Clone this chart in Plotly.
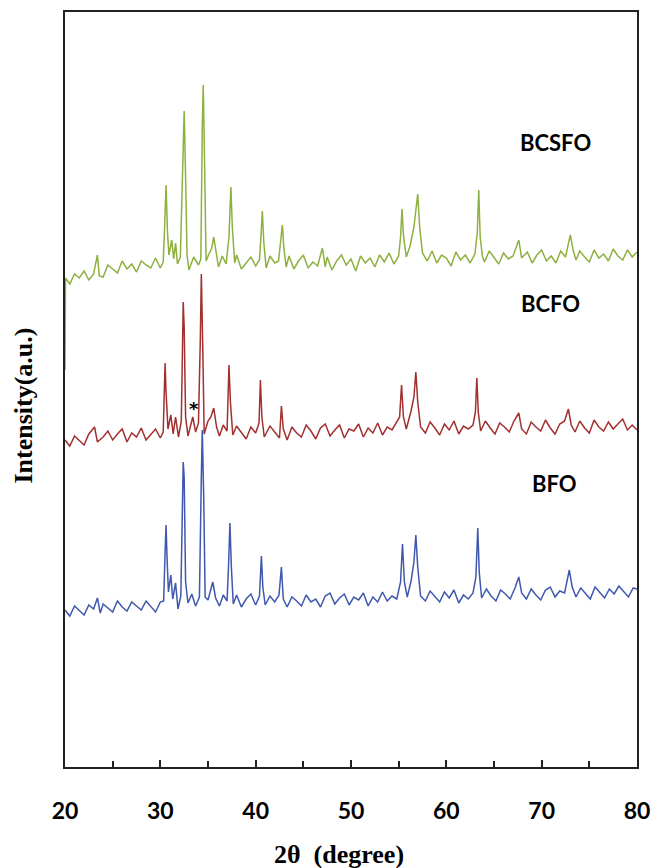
import plotly.graph_objects as go

# ---------------- data (2θ in degrees, intensity in a.u.) ----------------
bcsfo_2theta = [20.0, 20.05, 20.5, 21.0, 21.5, 22.0, 22.5, 23.0, 23.4, 23.6, 24.0, 24.5, 25.0, 25.5, 26.0, 26.5,
                27.0, 27.5, 28.0, 28.5, 29.0, 29.5, 30.0, 30.3, 30.45, 30.6, 30.75, 30.9, 31.2, 31.4, 31.6, 31.8,
                32.1, 32.3, 32.4, 32.5, 32.65, 32.8, 33.0, 33.5, 34.0, 34.25, 34.4, 34.5, 34.65, 34.8, 35.1, 35.4,
                35.6, 35.8, 36.1, 36.5, 36.9, 37.2, 37.4, 37.55, 37.8, 38.0, 38.5, 39.0, 39.5, 40.0, 40.4, 40.55,
                40.7, 40.85, 41.1, 41.5, 42.0, 42.4, 42.65, 42.8, 42.95, 43.2, 43.5, 44.0, 44.5, 45.0, 45.5, 46.0,
                46.5, 47.0, 47.3, 47.5, 48.0, 48.5, 49.0, 49.5, 50.0, 50.5, 51.0, 51.5, 52.0, 52.5, 53.0, 53.5,
                54.0, 54.5, 55.0, 55.2, 55.35, 55.5, 55.8, 56.2, 56.6, 57.0, 57.2, 57.5, 58.0, 58.5, 59.0, 59.5,
                60.0, 60.5, 61.0, 61.5, 62.0, 62.5, 63.0, 63.25, 63.4, 63.55, 63.8, 64.0, 64.5, 65.0, 65.5, 66.0,
                66.5, 67.0, 67.6, 67.9, 68.5, 69.0, 69.5, 70.0, 70.5, 71.0, 71.5, 72.0, 72.5, 73.0, 73.3, 73.6,
                74.0, 74.5, 75.0, 75.5, 76.0, 76.5, 77.0, 77.5, 78.0, 78.5, 79.0, 79.5, 80.0]
bcsfo_int = [397, 489, 483, 493, 489, 496, 487, 493, 512, 491, 490, 502, 498, 494, 506, 498,
             503, 495, 506, 502, 499, 509, 499, 505, 540, 582, 535, 512, 527, 508, 524, 503,
             510, 600, 639, 656, 590, 512, 497, 510, 502, 508, 640, 682, 600, 506, 513, 519,
             530, 516, 500, 511, 503, 530, 580, 540, 504, 512, 498, 504, 510, 501, 507, 530,
             556, 525, 499, 511, 504, 506, 525, 542, 520, 500, 511, 498, 506, 512, 499, 505,
             501, 519, 500, 510, 497, 506, 512, 502, 508, 496, 511, 504, 509, 500, 512, 505,
             514, 503, 511, 530, 558, 532, 510, 521, 540, 573, 540, 514, 506, 516, 504, 512,
             509, 501, 515, 507, 512, 504, 513, 535, 577, 530, 510, 505, 516, 509, 503, 514,
             508, 511, 527, 509, 515, 504, 512, 517, 506, 511, 504, 516, 510, 532, 517, 507,
             516, 510, 505, 517, 509, 513, 506, 518, 511, 507, 517, 510, 515]

bcfo_2theta = [20.0, 20.5, 21.0, 21.5, 22.0, 22.5, 23.1, 23.4, 24.0, 24.5, 25.0, 25.5, 26.0, 26.5, 27.0, 27.5,
               28.0, 28.5, 29.0, 29.5, 30.0, 30.3, 30.4, 30.5, 30.6, 30.8, 31.1, 31.35, 31.6, 31.9, 32.2, 32.3,
               32.4, 32.5, 32.65, 32.9, 33.2, 33.4, 33.7, 34.0, 34.2, 34.3, 34.45, 34.6, 35.0, 35.3, 35.6, 35.9,
               36.2, 36.6, 37.0, 37.1, 37.2, 37.35, 37.6, 38.0, 38.5, 39.0, 39.5, 40.0, 40.35, 40.5, 40.65, 40.9,
               41.5, 42.0, 42.5, 42.7, 42.9, 43.3, 43.8, 44.3, 44.8, 45.3, 45.8, 46.3, 46.8, 47.3, 47.8, 48.3,
               48.8, 49.3, 49.8, 50.3, 50.8, 51.3, 51.8, 52.3, 52.8, 53.3, 53.8, 54.3, 54.8, 55.1, 55.3, 55.5,
               55.8, 56.3, 56.6, 56.8, 57.0, 57.3, 57.8, 58.3, 58.8, 59.3, 59.8, 60.3, 60.8, 61.3, 61.8, 62.3,
               62.8, 63.05, 63.2, 63.35, 63.6, 64.1, 64.6, 65.1, 65.6, 66.1, 66.6, 67.1, 67.6, 67.9, 68.4, 68.9,
               69.4, 69.9, 70.4, 70.9, 71.4, 71.9, 72.4, 72.8, 73.1, 73.5, 74.0, 74.5, 75.0, 75.5, 76.0, 76.5,
               77.0, 77.5, 78.0, 78.5, 79.0, 79.5, 80.0]
bcfo_int = [327, 321, 331, 326, 322, 333, 340, 325, 330, 336, 327, 333, 338, 325, 334, 330,
            339, 327, 333, 338, 329, 335, 370, 404, 375, 338, 352, 333, 350, 330, 346, 420,
            465, 440, 350, 331, 341, 350, 335, 344, 430, 493, 420, 333, 346, 350, 359, 340,
            331, 342, 336, 375, 402, 365, 332, 341, 335, 328, 340, 334, 344, 387, 350, 330,
            341, 335, 329, 361, 338, 327, 340, 334, 330, 342, 336, 328, 339, 343, 331, 337,
            342, 329, 338, 336, 343, 330, 339, 334, 344, 332, 340, 337, 345, 350, 382, 350,
            338, 356, 370, 395, 365, 340, 334, 345, 339, 332, 343, 337, 346, 333, 341, 338,
            342, 355, 389, 355, 336, 346, 339, 333, 344, 340, 335, 346, 354, 338, 333, 345,
            340, 336, 347, 339, 333, 343, 346, 358, 342, 335, 346, 339, 334, 347, 340, 336,
            345, 338, 343, 348, 337, 342, 337]

bfo_2theta = [20.0, 20.5, 21.0, 21.5, 22.0, 22.5, 23.0, 23.4, 23.7, 24.0, 24.5, 25.0, 25.5, 26.0, 26.5, 27.0,
              27.5, 28.0, 28.5, 29.0, 29.5, 30.0, 30.35, 30.5, 30.6, 30.7, 30.85, 31.1, 31.3, 31.6, 31.85, 32.15,
              32.3, 32.4, 32.5, 32.65, 32.9, 33.3, 33.7, 34.1, 34.3, 34.4, 34.55, 34.7, 35.0, 35.5, 35.8, 36.2,
              36.6, 37.0, 37.15, 37.3, 37.45, 37.65, 38.0, 38.5, 39.0, 39.5, 40.0, 40.4, 40.6, 40.75, 41.0, 41.5,
              42.0, 42.45, 42.7, 42.9, 43.3, 43.8, 44.3, 44.8, 45.3, 45.8, 46.3, 46.8, 47.3, 47.8, 48.3, 48.8,
              49.3, 49.8, 50.3, 50.8, 51.3, 51.8, 52.3, 52.8, 53.3, 53.8, 54.3, 54.8, 55.2, 55.4, 55.6, 55.9,
              56.3, 56.6, 56.8, 57.0, 57.3, 57.8, 58.3, 58.8, 59.3, 59.8, 60.3, 60.8, 61.3, 61.8, 62.3, 62.8,
              63.1, 63.3, 63.45, 63.7, 64.2, 64.7, 65.2, 65.7, 66.2, 66.7, 67.2, 67.6, 67.9, 68.4, 68.9, 69.4,
              69.9, 70.4, 70.9, 71.4, 71.9, 72.4, 72.9, 73.2, 73.6, 74.1, 74.6, 75.1, 75.6, 76.1, 76.6, 77.1,
              77.6, 78.1, 78.6, 79.1, 79.6, 80.0]
bfo_int = [157, 151, 161, 156, 152, 162, 158, 169, 154, 163, 159, 155, 166, 160, 156, 165,
           161, 157, 166, 160, 155, 165, 166, 215, 242, 210, 175, 192, 168, 184, 158, 171,
           265, 305, 290, 185, 164, 173, 161, 170, 290, 337, 270, 170, 167, 185, 169, 161,
           172, 166, 200, 244, 200, 163, 172, 160, 168, 173, 162, 171, 211, 180, 162, 171,
           165, 172, 200, 168, 160, 170, 166, 161, 172, 165, 168, 160, 171, 174, 163, 169,
           173, 162, 170, 167, 174, 161, 170, 165, 175, 166, 171, 168, 185, 223, 185, 170,
           186, 205, 232, 200, 171, 166, 176, 170, 165, 175, 169, 177, 164, 172, 168, 174,
           190, 239, 195, 169, 178, 171, 166, 177, 173, 168, 179, 190, 174, 168, 178, 172,
           167, 177, 180, 170, 176, 174, 197, 180, 170, 179, 173, 168, 180, 174, 169, 178,
           173, 181, 175, 170, 179, 178]

series_names = ["BCSFO", "BCFO", "BFO"]
series_colors = ["#8DB03F", "#A2302F", "#3F58AE"]
x_tick_vals = [20, 30, 40, 50, 60, 70, 80]
x_tick_text = ["20", "30", "40", "50", "60", "70", "80"]
x_minor_vals = [25, 35, 45, 55, 65, 75]

# ---------------- figure ----------------
fig = go.Figure()
for xs, ys, name, col in zip([bcsfo_2theta, bcfo_2theta, bfo_2theta],
                             [bcsfo_int, bcfo_int, bfo_int],
                             series_names, series_colors):
    fig.add_trace(go.Scatter(x=xs, y=ys, mode="lines", name=name,
                             line=dict(color=col, width=1.5), showlegend=False))

label_font = dict(family="Lato", size=22, color="black", weight="bold")
fig.add_annotation(x=71.5, y=625, text="BCSFO", showarrow=False, font=label_font)
fig.add_annotation(x=70.9, y=464, text="BCFO", showarrow=False, font=label_font)
fig.add_annotation(x=71.3, y=284, text="BFO", showarrow=False, font=label_font)
fig.add_annotation(x=33.5, y=359, text="*", showarrow=False,
                   font=dict(family="DejaVu Sans", size=18, color="black", weight="bold"))

# axis titles
fig.add_annotation(x=0.479, y=-0.116, xref="paper", yref="paper", xanchor="center", yanchor="middle",
                   text="2θ  (degree)", showarrow=False,
                   font=dict(family="Liberation Serif", size=26, color="black", weight="bold"))
fig.add_annotation(x=-0.073, y=0.479, xref="paper", yref="paper", xanchor="center", yanchor="middle",
                   text="Intensity(a.u.)", showarrow=False, textangle=-90,
                   font=dict(family="Liberation Serif", size=26, color="black", weight="bold"))

fig.update_layout(
    width=652, height=868,
    margin=dict(l=65, r=15, t=12, b=101, autoexpand=False),
    paper_bgcolor="white", plot_bgcolor="white",
)
fig.update_xaxes(range=[20, 80], tickvals=x_tick_vals, ticktext=x_tick_text,
                 ticks="inside", ticklen=7, tickwidth=1.5, tickcolor="#222",
                 minor=dict(tickvals=x_minor_vals, ticks="inside", ticklen=6,
                            tickwidth=1.5, tickcolor="#222"),
                 showline=True, linecolor="#222", linewidth=2, mirror=True,
                 showgrid=False, zeroline=False, ticklabelstandoff=22, automargin=False,
                 tickfont=dict(family="Lato", size=23, color="black", weight="bold"))
fig.update_yaxes(range=[0, 755], showticklabels=False, ticks="",
                 showline=True, linecolor="#222", linewidth=2, mirror=True,
                 showgrid=False, zeroline=False, automargin=False)

fig.write_html("out.html")
